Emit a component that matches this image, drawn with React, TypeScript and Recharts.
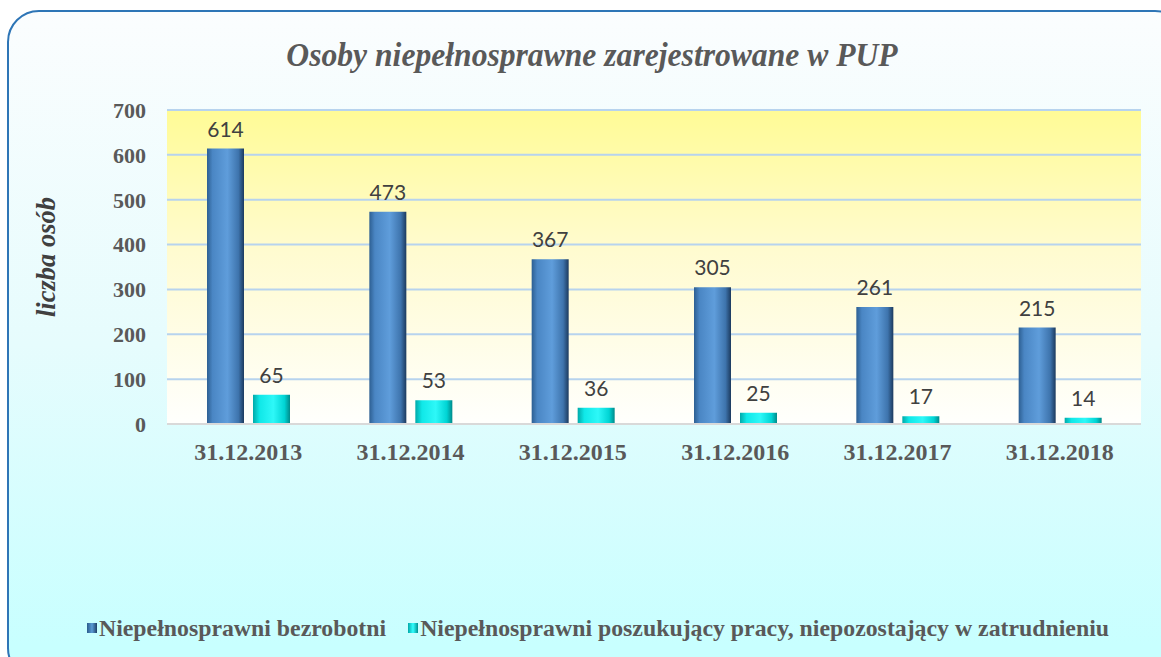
import React from "react";
import { BarChart, Bar, XAxis, YAxis, CartesianGrid, LabelList, Legend } from "recharts";

const categories = ["31.12.2013", "31.12.2014", "31.12.2015", "31.12.2016", "31.12.2017", "31.12.2018"];
const bezrobotni = [614, 473, 367, 305, 261, 215];
const poszukujacy = [65, 53, 36, 25, 17, 14];
const yTicks = [0, 100, 200, 300, 400, 500, 600, 700];

const SERIES_A = "Niepełnosprawni bezrobotni";
const SERIES_B = "Niepełnosprawni poszukujący pracy, niepozostający w zatrudnieniu";

const data = categories.map((c, i) => ({ name: c, a: bezrobotni[i], b: poszukujacy[i] }));

const serif = "'Liberation Serif', 'Times New Roman', serif";
const labelStyle = { fontFamily: "Lato, sans-serif", fontSize: 21, fill: "#404040" };

const renderLegend = () => (
  <div
    style={{
      display: "flex",
      alignItems: "center",
      height: 30,
      paddingLeft: 87,
      fontFamily: serif,
      fontWeight: "bold",
      fontSize: 23.8,
      color: "#595959",
      whiteSpace: "nowrap",
    }}
  >
    <span style={{ width: 10, height: 10, background: "linear-gradient(90deg,#2a5b8c,#5b9bd5,#1f3f66)" }} />
    <span style={{ marginLeft: 2, marginRight: 22 }}>{SERIES_A}</span>
    <span style={{ width: 10, height: 10, background: "linear-gradient(90deg,#00a8a8,#33ffff,#009090)" }} />
    <span style={{ marginLeft: 2 }}>{SERIES_B}</span>
  </div>
);

// y axis title, nudged a bit above the middle like the original
const renderYLabel = (props: any) => {
  const vb = props.viewBox;
  const x = vb.x + 16;
  const y = vb.y + vb.height / 2 - 10;
  return (
    <text
      x={x}
      y={y}
      transform={`rotate(-90, ${x}, ${y})`}
      textAnchor="middle"
      dominantBaseline="central"
      style={{ fontFamily: serif, fontStyle: "italic", fontWeight: "bold", fontSize: 26.5, fill: "#404040" }}
    >
      liczba osób
    </text>
  );
};

export default function App() {
  return (
    <div style={{ position: "absolute", left: 0, top: 0, width: 1161, height: 657, overflow: "hidden", background: "#fff" }}>
      <div
        style={{
          position: "absolute",
          left: 7,
          top: 10,
          width: 1180,
          height: 670,
          boxSizing: "border-box",
          border: "2px solid #2e75b6",
          borderRadius: 32,
          background: "linear-gradient(180deg, #fbfdfe 0%, #e6fcfd 50%, #c8ffff 95%)",
        }}
      />
      <div
        style={{
          position: "absolute",
          left: 0,
          width: 1184,
          top: 36,
          textAlign: "center",
          fontFamily: serif,
          fontStyle: "italic",
          fontWeight: "bold",
          fontSize: 34,
          color: "#595959",
          transform: "scaleX(0.93)",
        }}
      >
        Osoby niepełnosprawne zarejestrowane w PUP
      </div>
      <div style={{ position: "absolute", left: 0, top: 0 }}>
        <BarChart
          width={1161}
          height={657}
          data={data}
          margin={{ top: 110, right: 20, left: 30, bottom: 14 }}
          barSize={37}
          barGap={9}
        >
          <defs>
            <linearGradient id="plotBg" x1="0" y1="0" x2="0" y2="1">
              <stop offset="0%" stopColor="#fffb96" />
              <stop offset="45%" stopColor="#fffbd0" />
              <stop offset="100%" stopColor="#fffffd" />
            </linearGradient>
            <linearGradient id="blueBar" x1="0" y1="0" x2="1" y2="0">
              <stop offset="0%" stopColor="#2d5f92" />
              <stop offset="15%" stopColor="#4a86c4" />
              <stop offset="55%" stopColor="#5f9ddb" />
              <stop offset="85%" stopColor="#3e74ad" />
              <stop offset="100%" stopColor="#1c3a5e" />
            </linearGradient>
            <linearGradient id="cyanBar" x1="0" y1="0" x2="1" y2="0">
              <stop offset="0%" stopColor="#00a9a9" />
              <stop offset="18%" stopColor="#10e8e8" />
              <stop offset="55%" stopColor="#2ef8f8" />
              <stop offset="85%" stopColor="#00d4d4" />
              <stop offset="100%" stopColor="#008a8a" />
            </linearGradient>
          </defs>
          <CartesianGrid vertical={false} stroke="#b7d3ee" strokeWidth={2} fill="url(#plotBg)" fillOpacity={1} />
          <XAxis
            dataKey="name"
            height={189}
            tickLine={false}
            axisLine={{ stroke: "#d9d9d9", strokeWidth: 2 }}
            tickMargin={13}
            tick={{ fontFamily: serif, fontWeight: "bold", fontSize: 24, fill: "#595959" }}
          />
          <YAxis
            width={137}
            domain={[0, 700]}
            ticks={yTicks}
            tickLine={false}
            axisLine={false}
            tickMargin={15}
            tick={{ fontFamily: serif, fontWeight: "bold", fontSize: 22, fill: "#595959" }}
            label={{ value: "liczba osób", content: renderYLabel }}
          />
          <Legend verticalAlign="bottom" content={renderLegend} wrapperStyle={{ left: 0, width: 1161 }} />
          <Bar dataKey="a" name={SERIES_A} fill="url(#blueBar)" isAnimationActive={false}>
            <LabelList dataKey="a" position="top" offset={12} style={labelStyle} />
          </Bar>
          <Bar dataKey="b" name={SERIES_B} fill="url(#cyanBar)" isAnimationActive={false}>
            <LabelList dataKey="b" position="top" offset={12} style={labelStyle} />
          </Bar>
        </BarChart>
      </div>
    </div>
  );
}
